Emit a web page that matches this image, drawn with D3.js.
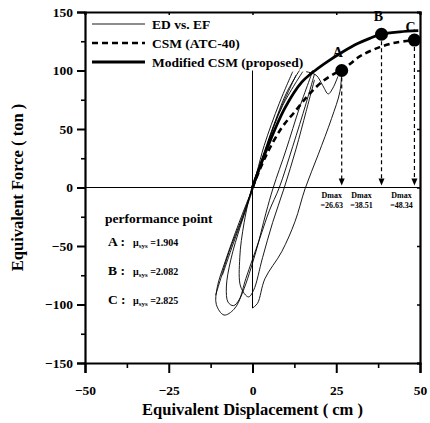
<!DOCTYPE html>
<html><head><meta charset="utf-8">
<script src="https://cdn.jsdelivr.net/npm/d3@7"></script>
<style>body{margin:0;background:#fff}svg text{font-family:"Liberation Serif","Times New Roman",serif;font-weight:bold;fill:#000}</style>
</head><body>
<svg id="c" width="430" height="423"></svg>
<script>
// ---- data ----
const xTicks = [-50, -25, 0, 25, 50];
const xMinor = [-37.5, -12.5, 12.5, 37.5];
const yTicks = [-150, -100, -50, 0, 50, 100, 150];
const yMinor = [-125, -75, -25, 25, 75, 125];

// ED vs. EF hysteresis (thin)
const edLoop1 = [[18,100],[12,80],[6,45],[0.5,3],[-4,-30],[-8,-62],[-10.5,-85],[-10.8,-100],[-8.5,-109],[-5.5,-104],[-3,-90],[1,-55],[4,-22],[6.2,0],[10,32],[14,68],[17,92],[18,100]];
const edLoop2 = [[15,99],[9,70],[4,33],[0.3,0],[-3.5,-32],[-6.5,-62],[-7.8,-85],[-7.3,-98],[-5.7,-101],[-4,-96],[-2,-78],[2,-45],[5,-20],[8,0],[12,35],[16,72],[18.5,97]];
const edLoop3 = [[13,96],[7,58],[2,18],[0,2],[-2.5,-30],[-3.8,-60],[-3.5,-85],[-1.2,-93.5],[0.3,-88],[3,-60],[6,-30],[9.5,0],[13,33],[16,65],[18.5,92]];
const edLoop4 = [[14,100],[10,80],[5,42],[1,8],[-3,-25],[-7,-55],[-9.5,-78],[-11,-92]];
const edLoop5 = [[12,99],[8,72],[3.5,36],[1.2,12],[-2,-18],[-6,-50],[-9,-75]];
const edVert = [[0,100],[0,-103]];
const edFinal = [[0,-103],[1.5,-99],[3.7,-78],[8.7,-55],[12.7,-29],[15.7,-1],[19.6,28],[23.6,59],[26.1,82],[26.63,100]];
const edPeak = [[16,99],[19,96],[21,87],[22.6,80],[24,85],[25.5,95]];

// CSM (ATC-40) dashed
const csmATC = [[0,0],[4,27],[8.7,51],[12.7,65],[16.7,79],[20.6,90],[24.6,97.6],[26.63,100],[32,112],[38,120],[43,124],[48.34,126]];
// Modified CSM (proposed)
const csmMod = [[0,0],[4.7,36],[9.7,68],[14.7,90],[18.7,100],[22.6,108],[27,116],[31.4,123],[35,127.5],[38.51,131],[44,133],[49.5,134]];

// performance points
const ppNames = ["A", "B", "C"];
const ppX = [26.63, 38.51, 48.34];
const ppY = [100, 131, 126];
const ppMu = ["1.904", "2.082", "2.825"];
const dmaxText = ["=26.63", "=38.51", "=48.34"];
const dmaxDx = [-10, -20, -13];

const legendLabels = ["ED vs. EF", "CSM (ATC-40)", "Modified CSM (proposed)"];

// ---- drawing ----
const svg = d3.select("#c");
const x = d3.scaleLinear().domain([-50, 50]).range([85, 420]);
const y = d3.scaleLinear().domain([-150, 150]).range([363, 12]);

// zero lines
svg.append("line").attr("x1", x(-50)).attr("x2", x(50)).attr("y1", y(0)).attr("y2", y(0))
  .attr("stroke", "#000").attr("stroke-width", 1);

const smooth = d3.line().x(d => x(d[0])).y(d => y(d[1])).curve(d3.curveCatmullRom.alpha(0.5));
const straight = d3.line().x(d => x(d[0])).y(d => y(d[1]));

[edLoop1, edLoop2, edLoop3, edLoop4, edLoop5, edFinal, edPeak].forEach(p =>
  svg.append("path").attr("d", smooth(p)).attr("fill", "none").attr("stroke", "#000").attr("stroke-width", 0.9));
svg.append("path").attr("d", straight(edVert)).attr("fill", "none").attr("stroke", "#000").attr("stroke-width", 1);

svg.append("path").attr("d", smooth(csmATC)).attr("fill", "none").attr("stroke", "#000")
  .attr("stroke-width", 2.6).attr("stroke-dasharray", "6,4");
svg.append("path").attr("d", smooth(csmMod)).attr("fill", "none").attr("stroke", "#000")
  .attr("stroke-width", 2.8);

// Dmax arrows
ppX.forEach((v, i) => {
  svg.append("line").attr("x1", x(v)).attr("x2", x(v)).attr("y1", y(ppY[i])).attr("y2", y(0) - 6)
    .attr("stroke", "#000").attr("stroke-width", 1.2).attr("stroke-dasharray", "4,3");
  const tx = x(v), ty = y(0) - 2;
  svg.append("path").attr("d", `M${tx - 3},${ty - 7}L${tx + 3},${ty - 7}L${tx},${ty}Z`).attr("fill", "#000");
  svg.append("text").attr("x", tx + dmaxDx[i]).attr("y", y(0) + 10).attr("text-anchor", "middle")
    .attr("font-size", 8).text("Dmax");
  svg.append("text").attr("x", tx + dmaxDx[i]).attr("y", y(0) + 20).attr("text-anchor", "middle")
    .attr("font-size", 8).text(dmaxText[i]);
});

// markers
ppX.forEach((v, i) => {
  svg.append("circle").attr("cx", x(v)).attr("cy", y(ppY[i])).attr("r", 6.5).attr("fill", "#000");
});
const ppLabelOff = [[-4, -14], [-3, -13], [-4, -8]];
ppNames.forEach((n, i) => {
  svg.append("text").attr("x", x(ppX[i]) + ppLabelOff[i][0]).attr("y", y(ppY[i]) + ppLabelOff[i][1])
    .attr("text-anchor", "middle").attr("font-size", 14).text(n);
});

// axes
const axL = svg.append("g").attr("transform", `translate(${x(-50)},0)`)
  .call(d3.axisLeft(y).tickValues(yTicks).tickSize(8).tickPadding(4).tickFormat(d3.format("d")));
const axB = svg.append("g").attr("transform", `translate(0,${y(-150)})`)
  .call(d3.axisBottom(x).tickValues(xTicks).tickSize(10).tickPadding(12).tickFormat(d3.format("d")));
[axL, axB].forEach(a => {
  a.select(".domain").attr("stroke-width", 2.2);
  a.selectAll(".tick line").attr("stroke-width", 2);
  a.selectAll("text").attr("font-size", 13.5).attr("font-family", "Liberation Serif").attr("font-weight", "bold");
});
svg.append("g").attr("transform", `translate(${x(-50)},0)`)
  .call(d3.axisLeft(y).tickValues(yMinor).tickSize(4).tickFormat(""))
  .call(g => { g.select(".domain").remove(); g.selectAll("line").attr("stroke-width", 1.6); });
svg.append("g").attr("transform", `translate(0,${y(-150)})`)
  .call(d3.axisBottom(x).tickValues(xMinor).tickSize(5).tickFormat(""))
  .call(g => { g.select(".domain").remove(); g.selectAll("line").attr("stroke-width", 1.6); });
// top & right frame
svg.append("g").attr("transform", `translate(0,${y(150)})`)
  .call(d3.axisBottom(x).tickValues(xTicks).tickSize(3).tickFormat(""))
  .call(g => { g.select(".domain").attr("stroke-width", 2.2); g.selectAll("line").attr("stroke-width", 1.5); });
svg.append("g").attr("transform", `translate(${x(50)},0)`)
  .call(d3.axisLeft(y).tickValues(yTicks).tickSize(3).tickFormat(""))
  .call(g => { g.select(".domain").attr("stroke-width", 2.2); g.selectAll("line").attr("stroke-width", 1.5); });

// axis titles
svg.append("text").attr("x", (x(-50) + x(50)) / 2).attr("y", 415).attr("text-anchor", "middle")
  .attr("font-size", 16.5).text("Equivalent Displacement ( cm )");
svg.append("text").attr("transform", `translate(23,${y(0)}) rotate(-90)`).attr("text-anchor", "middle")
  .attr("font-size", 16.5).text("Equivalent Force ( ton )");

// legend
const lg = svg.append("g");
const lgY = [24, 43, 62];
const lgStyles = [{w: 0.9, dash: null}, {w: 2.6, dash: "6,4"}, {w: 2.8, dash: null}];
legendLabels.forEach((t, i) => {
  lg.append("line").attr("x1", 92).attr("x2", 145).attr("y1", lgY[i]).attr("y2", lgY[i])
    .attr("stroke", "#000").attr("stroke-width", lgStyles[i].w).attr("stroke-dasharray", lgStyles[i].dash);
  lg.append("text").attr("x", 152).attr("y", lgY[i] + 4.5).attr("font-size", 13.5).text(t);
});

// performance point block
svg.append("text").attr("x", 105).attr("y", 223).attr("font-size", 13.5).text("performance point");
const ppRowY = [246, 275, 304];
ppNames.forEach((n, i) => {
  svg.append("text").attr("x", 108).attr("y", ppRowY[i]).attr("font-size", 13.5).text(n + " :");
  const t = svg.append("text").attr("x", 133).attr("y", ppRowY[i]).attr("font-size", 10).attr("font-weight", "normal");
  t.append("tspan").text("\u03bc");
  t.append("tspan").attr("font-size", 7).attr("dy", 2).text("sys");
  t.append("tspan").attr("dy", -2).text(" =" + ppMu[i]);
});
</script>
</body></html>
